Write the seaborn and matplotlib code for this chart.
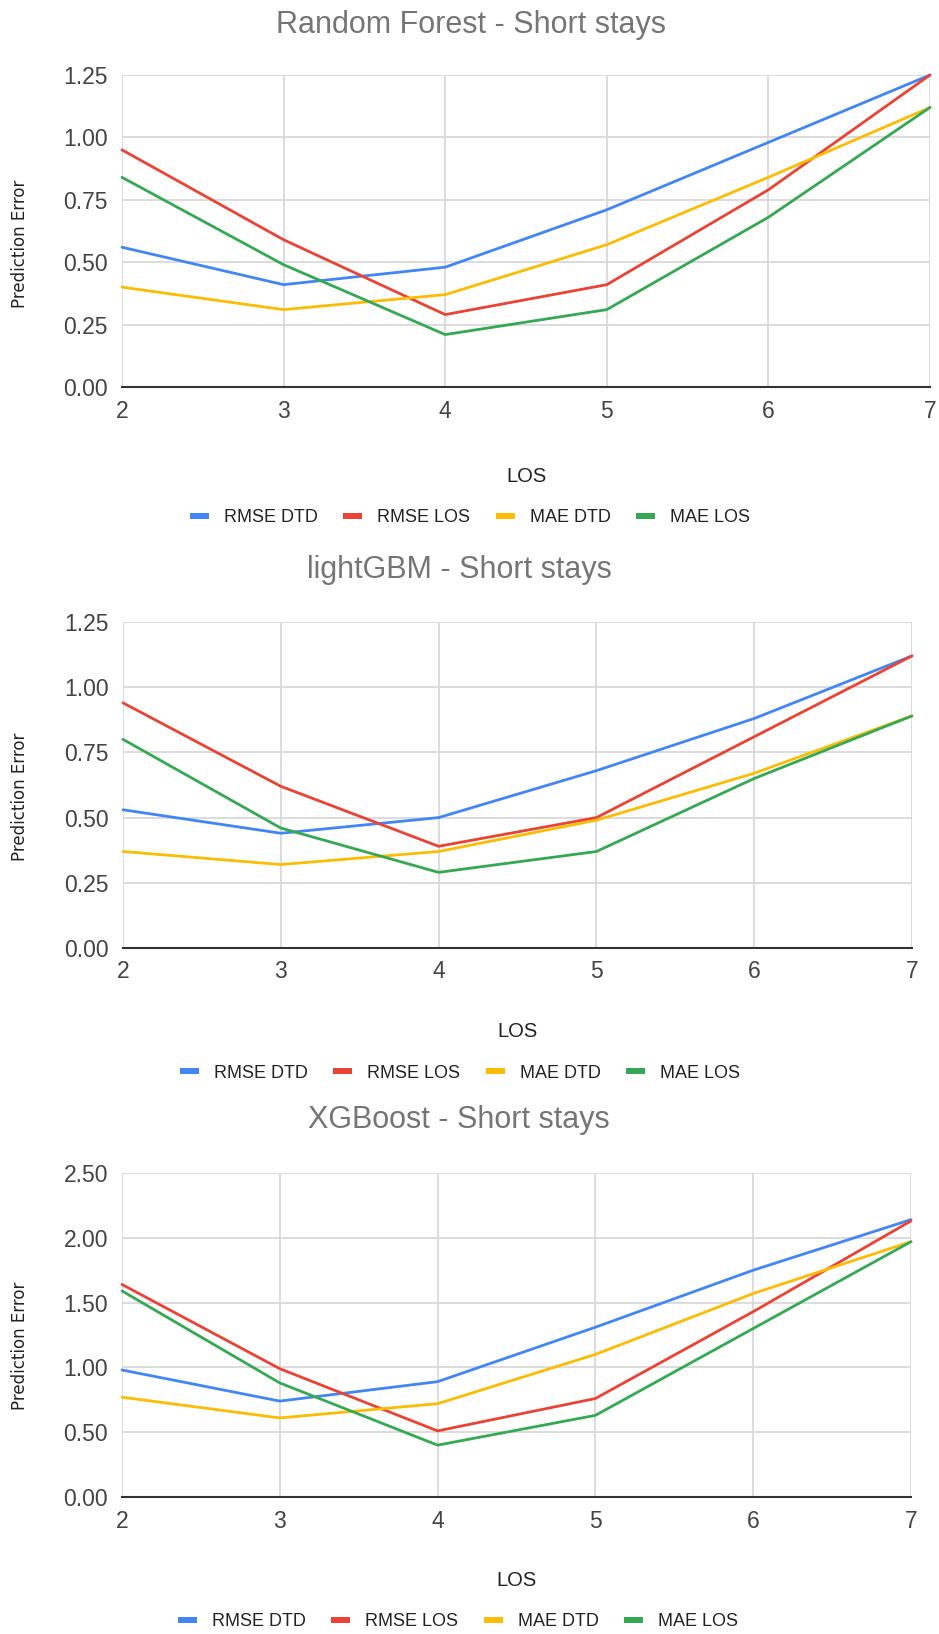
import matplotlib
matplotlib.use("Agg")
import matplotlib.pyplot as plt
from matplotlib.lines import Line2D
import seaborn as sns
import pandas as pd

los = [2, 3, 4, 5, 6, 7]
series_names = ["RMSE DTD", "RMSE LOS", "MAE DTD", "MAE LOS"]
colors = ["#4285F4", "#EA4335", "#FBBC04", "#34A853"]

rf_rmse_dtd = [0.56, 0.41, 0.48, 0.71, 0.98, 1.25]
rf_rmse_los = [0.95, 0.59, 0.29, 0.41, 0.79, 1.25]
rf_mae_dtd = [0.40, 0.31, 0.37, 0.57, 0.84, 1.12]
rf_mae_los = [0.84, 0.49, 0.21, 0.31, 0.68, 1.12]

lgb_rmse_dtd = [0.53, 0.44, 0.50, 0.68, 0.88, 1.12]
lgb_rmse_los = [0.94, 0.62, 0.39, 0.50, 0.81, 1.12]
lgb_mae_dtd = [0.37, 0.32, 0.37, 0.49, 0.67, 0.89]
lgb_mae_los = [0.80, 0.46, 0.29, 0.37, 0.65, 0.89]

xgb_rmse_dtd = [0.98, 0.74, 0.89, 1.31, 1.75, 2.14]
xgb_rmse_los = [1.64, 0.99, 0.51, 0.76, 1.43, 2.13]
xgb_mae_dtd = [0.77, 0.61, 0.72, 1.10, 1.57, 1.97]
xgb_mae_los = [1.59, 0.88, 0.40, 0.63, 1.30, 1.97]

y_ticks_small = [0.00, 0.25, 0.50, 0.75, 1.00, 1.25]
y_ticks_big = [0.00, 0.50, 1.00, 1.50, 2.00, 2.50]

panels = [
    ("Random Forest - Short stays", [rf_rmse_dtd, rf_rmse_los, rf_mae_dtd, rf_mae_los], y_ticks_small),
    ("lightGBM - Short stays", [lgb_rmse_dtd, lgb_rmse_los, lgb_mae_dtd, lgb_mae_los], y_ticks_small),
    ("XGBoost - Short stays", [xgb_rmse_dtd, xgb_rmse_los, xgb_mae_dtd, xgb_mae_los], y_ticks_big),
]

sns.set_theme(style="white")
plt.rcParams["font.family"] = ["Liberation Sans", "DejaVu Sans"]

W, H = 939, 1634
fig = plt.figure(figsize=(W / 100, H / 100), dpi=100)
fig.patch.set_facecolor("white")

def fx(px):
    return px / W

def fy(py):
    return 1 - py / H

layout = [
    dict(l=122, r=930, t=75, b=387, title_y=33, title_x=471, xlab_y=482, leg_y=518, leg_x=470, ylab_y=244),
    dict(l=123, r=912, t=622, b=948, title_y=578, title_x=459, xlab_y=1037, leg_y=1073, leg_x=460, ylab_y=797),
    dict(l=122, r=911, t=1173, b=1497, title_y=1128, title_x=459, xlab_y=1586, leg_y=1622, leg_x=458, ylab_y=1346),
]

for (title, vals, yt), L in zip(panels, layout):
    ax = fig.add_axes([fx(L["l"]), fy(L["b"]), fx(L["r"] - L["l"]), (L["b"] - L["t"]) / H])
    df = pd.DataFrame({
        "LOS": los * 4,
        "value": [v for s in vals for v in s],
        "series": [n for n in series_names for _ in los],
    })
    sns.lineplot(data=df, x="LOS", y="value", hue="series", hue_order=series_names,
                 palette=colors, linewidth=2.0, ax=ax, legend=False, clip_on=False, zorder=3)
    ax.set_xlim(2, 7)
    ax.set_ylim(yt[0], yt[-1])
    ax.set_xticks(los)
    ax.set_yticks(yt)
    ax.set_yticklabels([f"{t:.2f}" for t in yt])
    ax.set_xlabel("")
    ax.set_ylabel("")
    ax.grid(True, color="#d9d9d9", linewidth=1.3)
    ax.set_axisbelow(True)
    for s in ["top", "right", "left"]:
        ax.spines[s].set_visible(False)
    ax.spines["bottom"].set_color("#333333")
    ax.spines["bottom"].set_linewidth(1.5)
    ax.spines["bottom"].set_zorder(4)
    ax.tick_params(axis="both", length=0, labelsize=16.5, colors="#444444")
    ax.tick_params(axis="x", pad=9)
    ax.tick_params(axis="y", pad=10)
    fig.text(fx(L["title_x"]), fy(L["title_y"]), title, ha="center", va="baseline",
             fontsize=22, color="#757575")
    fig.text(fx((L["l"] + L["r"]) / 2), fy(L["xlab_y"]), "LOS", ha="center", va="baseline",
             fontsize=14.5, color="#222222")
    fig.text(fx(20.5), fy(L["ylab_y"]), "Prediction Error", ha="center", va="center",
             rotation=90, fontsize=12, color="#222222", family=["DejaVu Sans"])
    handles = [Line2D([0], [0], color=c, linewidth=4.3, solid_capstyle="butt") for c in colors]
    fig.legend(handles, series_names, loc="center", bbox_to_anchor=(fx(L["leg_x"]), fy(L["leg_y"])),
               ncol=4, frameon=False, fontsize=13, handlelength=1.05, handletextpad=0.85,
               columnspacing=1.4, labelcolor="#222222", borderpad=0, borderaxespad=0)

fig.savefig("out.png", dpi=100, facecolor="white")
